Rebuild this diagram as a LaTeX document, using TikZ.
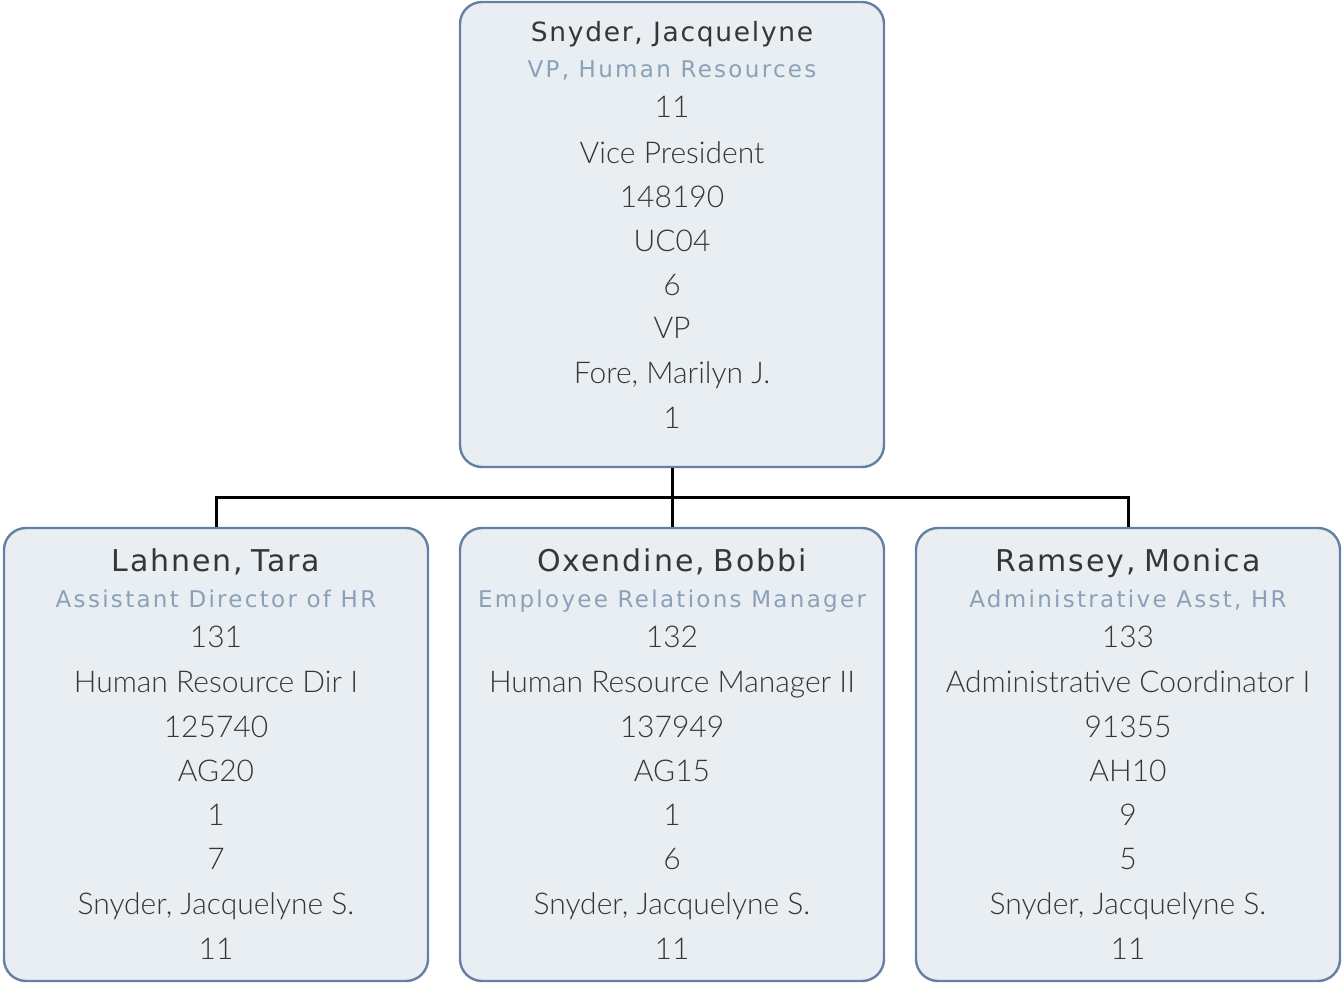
\documentclass[tikz,border=0pt]{standalone}
\usepackage{fontspec}
\setmainfont{Lato}[UprightFont={* Light}]
\newfontfamily\namefont[LetterSpace=6.5]{DejaVu Sans}
\newfontfamily\titlefont[LetterSpace=10]{DejaVu Sans}
\definecolor{boxfill}{HTML}{E9EEF2}
\definecolor{boxline}{HTML}{6580A1}
\definecolor{titlecol}{HTML}{8AA0BB}
\definecolor{textcol}{HTML}{363636}
\tikzset{
  person/.style={draw=boxline, fill=boxfill, line width=2.4pt, rounded corners=22pt,
    minimum width=424pt, inner sep=0pt},
  pname/.style={font=\namefont\fontsize{26.5}{26.5}\selectfont, text=textcol, anchor=base},
  pnamebig/.style={font=\namefont\fontsize{30}{30}\selectfont, text=textcol, anchor=base},
  ptitle/.style={font=\titlefont\fontsize{23}{23}\selectfont, text=titlecol, anchor=base},
  pline/.style={font=\fontsize{30}{30}\selectfont, text=textcol, anchor=base},
  link/.style={draw=black, line width=3pt}
}
\begin{document}
\begin{tikzpicture}[x=1pt,y=-1pt]
\useasboundingbox (0,0) rectangle (1343,983);
\node[person, minimum height=465pt] (top) at (672,234.5) {};
\node[person, minimum height=453pt] (lahnen) at (216,754.5) {};
\node[person, minimum height=453pt] (oxen) at (672,754.5) {};
\node[person, minimum height=453pt] (ramsey) at (1128,754.5) {};
% top box text
\node[pname] (tn) at (672,41) {Snyder, Jacquelyne};
\node[ptitle] (tt) at (672,77) {VP, Human Resources};
\node[pline] (t1) at (672,117) {11};
\node[pline] (t2) at (672,163) {Vice President};
\node[pline] (t3) at (672,207) {148190};
\node[pline] (t4) at (672,251) {UC04};
\node[pline] (t5) at (672,295) {6};
\node[pline] (t6) at (672,338) {VP};
\node[pline] (t7) at (672,383) {Fore, Marilyn J.};
\node[pline] (t8) at (672,428) {1};
% lahnen
\node[pnamebig] (ln) at (216,571) {Lahnen,\kern-3pt\ Tara};
\node[ptitle] (lt) at (216,607) {Assistant Director of HR};
\node[pline] (l1) at (216,647) {131};
\node[pline] (l2) at (216,692) {Human Resource Dir I};
\node[pline] (l3) at (216,737) {125740};
\node[pline] (l4) at (216,781) {AG20};
\node[pline] (l5) at (216,825) {1};
\node[pline] (l6) at (216,869) {7};
\node[pline] (l7) at (216,914) {Snyder, Jacquelyne S.};
\node[pline] (l8) at (216,959) {11};
% oxendine
\node[pnamebig] (on) at (672,571) {Oxendine,\kern-3pt\ Bobbi};
\node[ptitle] (ot) at (672,607) {Employee Relations Manager};
\node[pline] (o1) at (672,647) {132};
\node[pline] (o2) at (672,692) {Human Resource Manager II};
\node[pline] (o3) at (672,737) {137949};
\node[pline] (o4) at (672,781) {AG15};
\node[pline] (o5) at (672,825) {1};
\node[pline] (o6) at (672,869) {6};
\node[pline] (o7) at (672,914) {Snyder, Jacquelyne S.};
\node[pline] (o8) at (672,959) {11};
% ramsey
\node[pnamebig] (rn) at (1128,571) {Ramsey,\kern-3pt\ Monica};
\node[ptitle] (rt) at (1128,607) {Administrative Asst, HR};
\node[pline] (r1) at (1128,647) {133};
\node[pline] (r2) at (1128,692) {Administrative Coordinator I};
\node[pline] (r3) at (1128,737) {91355};
\node[pline] (r4) at (1128,781) {AH10};
\node[pline] (r5) at (1128,825) {9};
\node[pline] (r6) at (1128,869) {5};
\node[pline] (r7) at (1128,914) {Snyder, Jacquelyne S.};
\node[pline] (r8) at (1128,959) {11};
% connectors
\coordinate (bus) at (672,497);
\draw[link] (top.south) -- (bus);
\draw[link] (lahnen.north) |- (bus);
\draw[link] (ramsey.north) |- (bus);
\draw[link] (oxen.north) -- (bus);
\end{tikzpicture}
\end{document}
